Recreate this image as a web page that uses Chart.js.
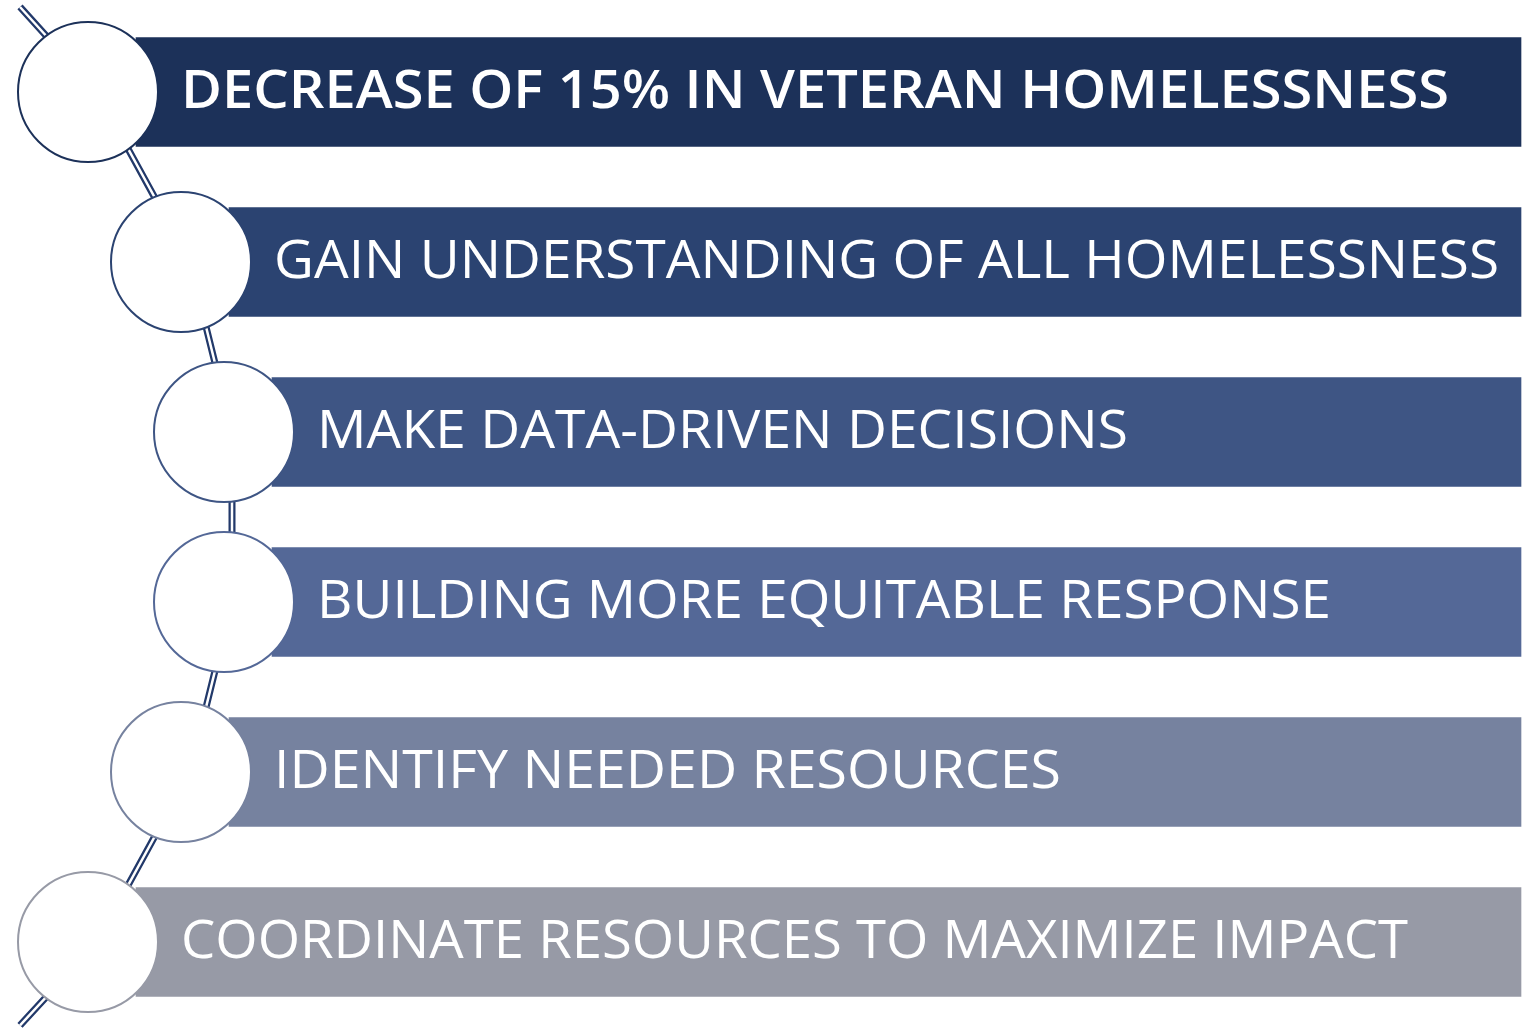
<!DOCTYPE html>
<html>
<head>
<meta charset="utf-8">
<script src="https://cdn.jsdelivr.net/npm/chart.js@4"></script>
<style>
  html, body { margin: 0; padding: 0; background: #fff; }
  #wrap { width: 1524px; height: 1028px; }
</style>
</head>
<body>
<div id="wrap"><canvas id="steps"></canvas></div>
<script>
// ---------- data ----------
const stepLabels = [
  "DECREASE OF 15% IN VETERAN HOMELESSNESS",
  "GAIN UNDERSTANDING OF ALL HOMELESSNESS",
  "MAKE DATA-DRIVEN DECISIONS",
  "BUILDING MORE EQUITABLE RESPONSE",
  "IDENTIFY NEEDED RESOURCES",
  "COORDINATE RESOURCES TO MAXIMIZE IMPACT",
];
const stepRows = [0, 1, 2, 3, 4, 5];
// circle centre along the x axis for each step (zig-zag path)
const stepIndent = [88, 181, 224, 224, 181, 88];
const barStart = [136, 229, 272, 272, 229, 136];
const barEnd = [1521, 1521, 1521, 1521, 1521, 1521];
const textEnd = [1449, 1499, 1128, 1331, 1061, 1408];
// connector runs slightly right of the circle centres
const pathX = [97, 190, 232, 232, 190, 97];
const pathEnds = [{ x: 20, y: -0.5 }, { x: 20, y: 5.49 }];

// ---------- styles ----------
const stepColors = ["#1C3159", "#2B4371", "#3E5584", "#546897", "#76829F", "#979AA6"];
const pathColor = "#22396A";

const barData = stepRows.map((r, i) => ({ x: [barStart[i], barEnd[i]], y: r }));
const circleData = stepRows.map((r, i) => ({ x: stepIndent[i], y: r }));
const pathData = [pathEnds[0], ...stepRows.map((r, i) => ({ x: pathX[i], y: r })), pathEnds[1]];

// texto na barra, comprimido horizontalmente
const labelPlugin = {
  id: "stepLabels",
  afterDatasetsDraw(chart) {
    const { ctx, scales } = chart;
    ctx.save();
    ctx.fillStyle = "#fff";
    ctx.textBaseline = "alphabetic";
    stepLabels.forEach((txt, i) => {
      ctx.font = (i === 0 ? "600 " : "400 ") + "53px 'Open Sans'";
      const x0 = scales.x.getPixelForValue(stepIndent[i]) + 93;
      const target = scales.x.getPixelForValue(textEnd[i]) - x0;
      const w = ctx.measureText(txt).width;
      const y = scales.y.getPixelForValue(stepRows[i]) + 16;
      ctx.save();
      ctx.translate(x0, y);
      ctx.scale(target / w, 1);
      ctx.fillText(txt, 0, 0);
      ctx.restore();
    });
    ctx.restore();
  },
};

new Chart(document.getElementById("steps"), {
  type: "bar",
  data: {
    datasets: [
      {
        type: "scatter",
        data: circleData,
        pointRadius: 70,
        pointHoverRadius: 70,
        pointBackgroundColor: "#fff",
        pointBorderColor: stepColors,
        pointBorderWidth: 2,
        clip: false,
        order: 0,
      },
      {
        type: "bar",
        data: barData,
        backgroundColor: stepColors,
        borderWidth: 0,
        barThickness: 109,
        clip: false,
        order: 1,
      },
      {
        type: "line",
        data: pathData,
        borderColor: "#fff",
        borderWidth: 2.5,
        pointRadius: 0,
        tension: 0,
        clip: false,
        order: 2,
      },
      {
        type: "line",
        data: pathData,
        borderColor: pathColor,
        borderWidth: 7,
        pointRadius: 0,
        tension: 0,
        clip: false,
        order: 3,
      },
    ],
  },
  options: {
    indexAxis: "y",
    responsive: true,
    maintainAspectRatio: false,
    animation: false,
    events: [],
    layout: { padding: 0, autoPadding: false },
    scales: {
      x: { type: "linear", min: 0, max: 1524, offset: false, display: false },
      y: { type: "linear", min: -0.541, max: 5.506, reverse: true, offset: false, display: false },
    },
    plugins: {
      legend: { display: false },
      tooltip: { enabled: false },
    },
  },
  plugins: [labelPlugin],
});
</script>
</body>
</html>
